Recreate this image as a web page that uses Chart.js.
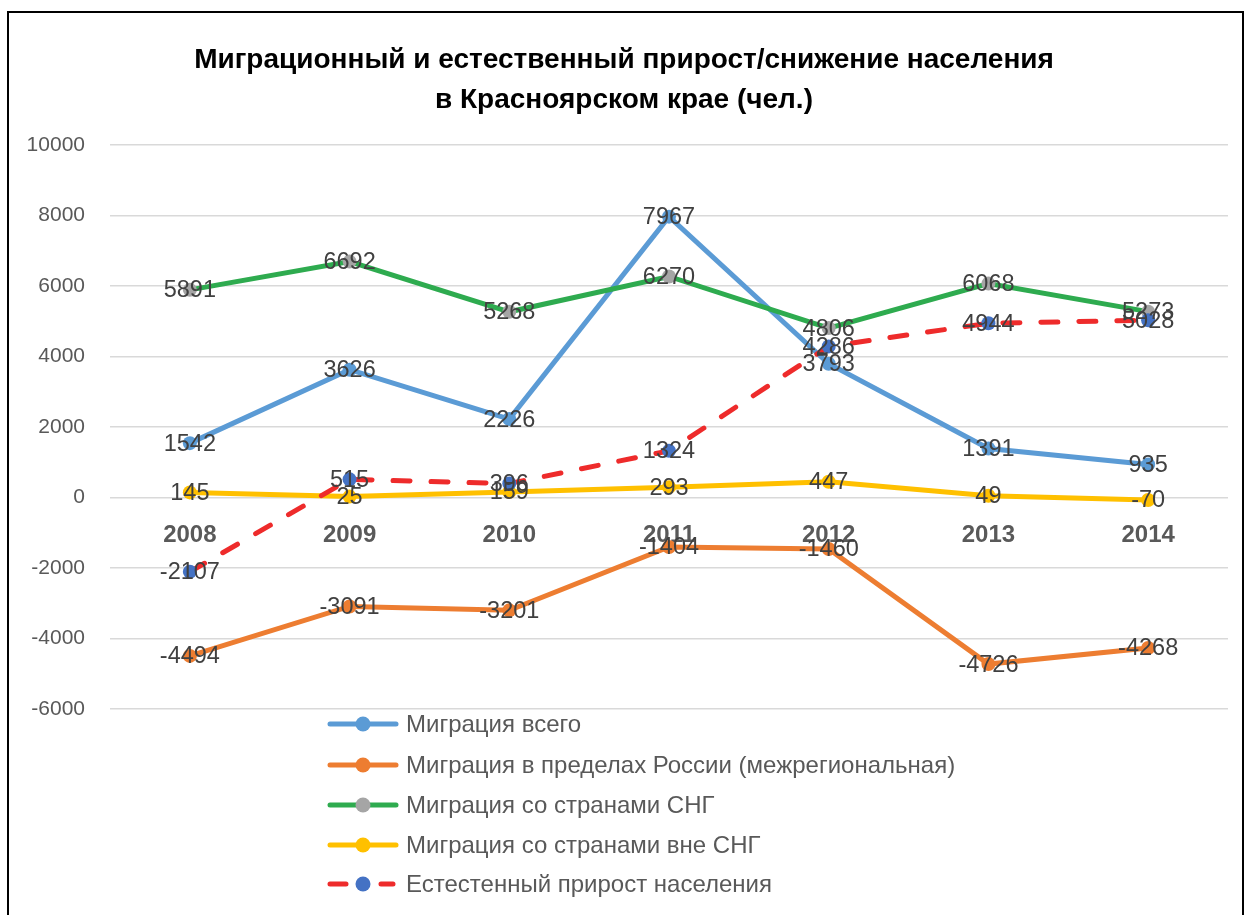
<!DOCTYPE html>
<html>
<head>
<meta charset="utf-8">
<script src="https://cdn.jsdelivr.net/npm/chart.js@4.4.0/dist/chart.umd.min.js"></script>
<style>
  body { margin: 0; background: #fff; }
  #box { width: 1246px; height: 915px; position: relative; }
</style>
</head>
<body>
<div id="box"><canvas id="migr" width="1246" height="915"></canvas></div>
<script>
const years = ["2008", "2009", "2010", "2011", "2012", "2013", "2014"];

const migr_all = [1542, 3626, 2226, 7967, 3793, 1391, 935];
const migr_russia = [-4494, -3091, -3201, -1404, -1460, -4726, -4268];
const migr_sng = [5891, 6692, 5268, 6270, 4806, 6068, 5273];
const migr_not_sng = [145, 25, 159, 293, 447, 49, -70];
const natural = [-2107, 515, 396, 1324, 4286, 4944, 5028];

const labels_legend = [
  "Миграция всего",
  "Миграция в пределах России (межрегиональная)",
  "Миграция со странами СНГ",
  "Миграция со странами вне СНГ",
  "Естестенный прирост населения",
];

const title_lines = [
  "Миграционный и естественный прирост/снижение населения",
  "в Красноярском крае (чел.)",
];

const fontName = "'Liberation Sans', Arial, sans-serif";

function serie(i, data, color, marker, dash) {
  return {
    label: labels_legend[i],
    data: data,
    borderColor: color,
    backgroundColor: marker,
    pointBackgroundColor: marker,
    pointBorderColor: marker,
    pointRadius: 7,
    pointHoverRadius: 7,
    pointBorderWidth: 0,
    borderWidth: 5,
    borderDash: dash || [],
    borderCapStyle: "round",
    tension: 0,
    order: 4 - i,
  };
}

const labelsPlugin = {
  id: "valores",
  beforeDraw(chart) {
    const c = chart.ctx;
    c.save();
    c.fillStyle = "#fff";
    c.fillRect(0, 0, chart.width, chart.height);
    c.strokeStyle = "#000";
    c.lineWidth = 2;
    c.strokeRect(8, 12, 1235, 930);
    c.restore();
  },
  afterDatasetsDraw(chart) {
    const c = chart.ctx;
    c.save();
    c.font = "23.5px " + fontName;
    c.fillStyle = "#404040";
    c.textAlign = "center";
    c.textBaseline = "middle";
    chart.data.datasets.forEach((ds, i) => {
      const meta = chart.getDatasetMeta(i);
      meta.data.forEach((p, j) => {
        c.fillText(String(ds.data[j]), p.x, p.y + 1);
      });
    });
    c.restore();
  },
  afterDraw(chart) {
    const c = chart.ctx;
    c.save();
    // title
    c.font = "bold 28px " + fontName;
    c.fillStyle = "#000";
    c.textAlign = "center";
    c.textBaseline = "middle";
    c.fillText(title_lines[0], 624, 60);
    c.fillText(title_lines[1], 624, 100);

    // legend
    const ys = [724, 765, 805, 845, 884];
    chart.data.datasets.forEach((ds, i) => {
      const y = ys[i];
      c.strokeStyle = ds.borderColor;
      c.lineWidth = 5;
      c.lineCap = "round";
      c.beginPath();
      if (ds.borderDash.length) {
        c.moveTo(330, y); c.lineTo(346, y);
        c.moveTo(381, y); c.lineTo(393, y);
      } else {
        c.moveTo(330, y); c.lineTo(396, y);
      }
      c.stroke();
      c.fillStyle = ds.pointBackgroundColor;
      c.beginPath();
      c.arc(363, y, 7.5, 0, Math.PI * 2);
      c.fill();
      c.font = "24px " + fontName;
      c.fillStyle = "#595959";
      c.textAlign = "left";
      c.fillText(ds.label, 406, y + 1);
    });
    c.restore();
  },
};

const grafico = new Chart(document.getElementById("migr"), {
  type: "line",
  data: {
    labels: years,
    datasets: [
      serie(0, migr_all, "#5B9BD5", "#5B9BD5"),
      serie(1, migr_russia, "#ED7D31", "#ED7D31"),
      serie(2, migr_sng, "#2EAB4F", "#A5A5A5"),
      serie(3, migr_not_sng, "#FFC000", "#FFC000"),
      serie(4, natural, "#EE2B2B", "#4472C4", [17, 21]),
    ],
  },
  options: {
    responsive: false,
    animation: false,
    devicePixelRatio: 1,
    layout: { padding: { top: 145, left: 10, right: 18, bottom: 206 } },
    plugins: {
      legend: { display: false },
      tooltip: { enabled: false },
      title: { display: false },
    },
    scales: {
      x: {
        position: { y: 0 },
        offset: true,
        grid: { display: false },
        border: { display: false },
        ticks: {
          color: "#595959",
          font: { family: fontName, size: 24, weight: "bold" },
          padding: 15,
          maxRotation: 0,
        },
      },
      y: {
        min: -6000,
        max: 10000,
        grid: { color: "#D9D9D9", lineWidth: 1.5, drawTicks: false },
        border: { display: false },
        ticks: {
          stepSize: 2000,
          color: "#595959",
          font: { family: fontName, size: 21 },
          padding: 25,
          callback: (v) => String(v),
        },
        afterFit(s) { s.width = 100; },
      },
    },
  },
  plugins: [labelsPlugin],
});
</script>
</body>
</html>
